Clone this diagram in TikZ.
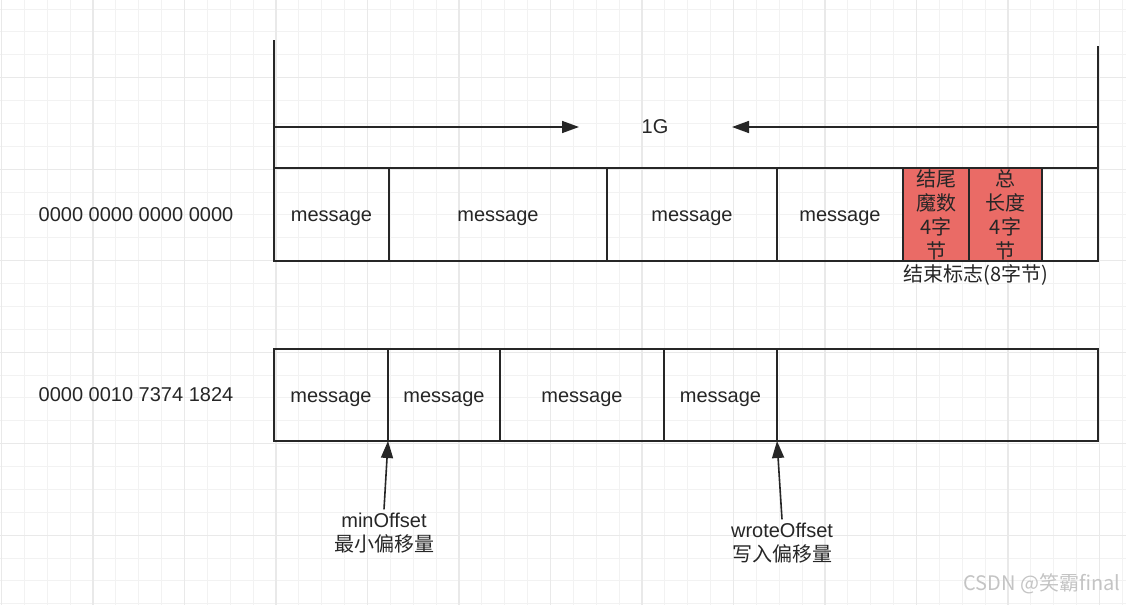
\documentclass[tikz,border=0pt]{standalone}
\usepackage{fontspec}
\setmainfont{Liberation Sans}
\newfontfamily\cjk{Noto Sans CJK SC}
\usetikzlibrary{positioning,arrows.meta}

\definecolor{gridminor}{HTML}{F2F2F2}
\definecolor{gridmajor}{HTML}{E9E9E9}
\definecolor{endred}{HTML}{EA6B66}
\definecolor{ink}{HTML}{262626}
\definecolor{wmgray}{HTML}{C4C4C4}

\begin{document}
\begin{tikzpicture}
[
	x=1pt,y=-1pt,
	box/.style={draw=ink,line width=1.6pt,minimum height=93pt,inner sep=0pt,outer sep=0pt,
		font=\fontsize{20}{24}\selectfont,text=ink},
	cell/.style={box,text height=14.3pt,text depth=0pt},
	endcell/.style={box,fill=endred,align=center,font=\cjk\fontsize{20}{24}\selectfont},
	lbl/.style={font=\fontsize{20}{24}\selectfont,text=ink,align=center},
	arr/.style={draw=ink,line width=1.6pt,-{Triangle[length=17pt,width=12pt]}},
	dim/.style={draw=ink,line width=1.6pt}
]

	\useasboundingbox[fill=white] (0,0) rectangle (1126,605);

	% grid
	\foreach \i in {0,...,49}
		\draw[gridminor,line width=1pt] ({1.5+22.875*\i},0) -- ++(0,605);
	\foreach \j in {0,...,27}
		\draw[gridminor,line width=1pt] (0,{-13.8+22.875*\j}) -- ++(1126,0);
	\foreach \i in {0,...,12}
		\draw[gridmajor,line width=1.2pt] ({1.5+91.5*\i},0) -- ++(0,605);
	\foreach \j in {0,...,6}
		\draw[gridmajor,line width=1.2pt] (0,{-13.8+91.5*\j}) -- ++(1126,0);

	% first file
	\node[cell,minimum width=115pt,anchor=north west] (m1) at (274,168) {message};
	\node[cell,minimum width=218pt,right=0pt of m1] (m2) {message};
	\node[cell,minimum width=170pt,right=0pt of m2] (m3) {message};
	\node[cell,minimum width=126pt,right=0pt of m3] (m4) {message};
	\node[endcell,minimum width=66pt,right=0pt of m4] (e1) {结尾\\魔数\\4字\\节};
	\node[endcell,minimum width=73pt,right=0pt of e1] (e2) {总\\长度\\4字\\节};
	\node[cell,minimum width=56pt,right=0pt of e2] (e3) {};

	\node[lbl] (addr1) at (136,215) {0000 0000 0000 0000};
	\node[lbl,font=\cjk\fontsize{20}{24}\selectfont] (endflag) at (976,275) {结束标志(8字节)};

	% size of the file
	\coordinate (ltop) at (274,40);
	\coordinate (rtop) at (1098,46);
	\coordinate (rbot) at (1098,180);
	\coordinate (lmid) at (274,127);
	\coordinate (rmid) at (1098,127);
	\coordinate (ltip) at (579,127);
	\coordinate (rtip) at (732,127);
	\draw[dim] (ltop) -- (m1.north west);
	\draw[dim] (rtop) -- (rbot);
	\draw[arr] (lmid) -- (ltip);
	\draw[arr] (rmid) -- (rtip);
	\node[lbl] (size) at (655,127) {1G};

	% second file
	\node[cell,minimum height=92pt,minimum width=114pt,anchor=north west] (b1) at (274,349) {message};
	\node[cell,minimum height=92pt,minimum width=112pt,right=0pt of b1] (b2) {message};
	\node[cell,minimum height=92pt,minimum width=164pt,right=0pt of b2] (b3) {message};
	\node[cell,minimum height=92pt,minimum width=113pt,right=0pt of b3] (b4) {message};
	\node[cell,minimum height=92pt,minimum width=321pt,right=0pt of b4] (b5) {};

	\node[lbl] (addr2) at (136,395) {0000 0010 7374 1824};

	% offsets
	\node[lbl] (minoff) at (384,533) {minOffset\\{\cjk 最小偏移量}};
	\node[lbl] (wroteoff) at (782,543) {wroteOffset\\{\cjk 写入偏移量}};
	\draw[arr] (minoff.north) -- (b1.south east);
	\draw[arr] (wroteoff.north) -- (b4.south east);

	% watermark
	\node[anchor=east,text=wmgray,font=\cjk\fontsize{20}{24}\selectfont] (wm) at (1124,584) {CSDN @笑霸final};

\end{tikzpicture}
\end{document}
